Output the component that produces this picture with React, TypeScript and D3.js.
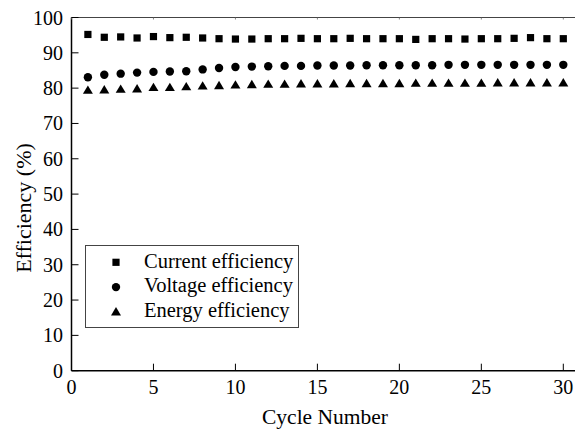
import React from 'react';
import * as d3 from 'd3';

const cycles = d3.range(1, 31);
const currentEff = [95.2, 94.4, 94.5, 94.2, 94.6, 94.3, 94.4, 94.2, 94.0, 93.9, 93.9, 94.0, 94.0, 94.1, 94.0, 94.0, 94.1, 94.0, 94.0, 94.0, 93.8, 94.0, 94.0, 93.9, 94.0, 94.0, 94.1, 94.3, 94.0, 94.0];
const voltageEff = [83.1, 83.8, 84.1, 84.4, 84.6, 84.7, 84.8, 85.3, 85.7, 86.0, 86.1, 86.2, 86.3, 86.3, 86.4, 86.4, 86.4, 86.5, 86.5, 86.5, 86.5, 86.5, 86.6, 86.6, 86.6, 86.6, 86.6, 86.6, 86.6, 86.6];
const energyEff = [79.4, 79.5, 79.7, 79.8, 80.2, 80.2, 80.4, 80.6, 80.7, 80.9, 81.0, 81.1, 81.1, 81.2, 81.2, 81.2, 81.3, 81.3, 81.3, 81.3, 81.4, 81.4, 81.4, 81.4, 81.4, 81.5, 81.5, 81.5, 81.5, 81.5];
const seriesNames = ['Current efficiency', 'Voltage efficiency', 'Energy efficiency'];
const xTicks = [0, 5, 10, 15, 20, 25, 30];
const yTicks = d3.range(0, 101, 10);

const W = 575;
const H = 429;
const font = '"Liberation Serif", "Times New Roman", serif';

const Marker = ({ kind, x, y }: { kind: number; x: number; y: number }) => {
  if (kind === 0) return <rect x={x - 3.6} y={y - 3.6} width={7.2} height={7.2} fill="#000" />;
  if (kind === 1) return <circle cx={x} cy={y} r={4.2} fill="#000" />;
  return <path d={`M${x},${y - 4.8}L${x + 5},${y + 3.6}L${x - 5},${y + 3.6}Z`} fill="#000" />;
};

export default function App() {
  const x = d3.scaleLinear().domain([0, 30]).range([71.5, 563.3]);
  const y = d3.scaleLinear().domain([0, 100]).range([370.7, 17.5]);
  const series = [currentEff, voltageEff, energyEff];

  return (
    <svg width={W} height={H} style={{ position: 'absolute', left: 0, top: 0, background: '#fff', fontFamily: font }}>
      {/* frame */}
      <line x1={x(0)} x2={W} y1={y(100)} y2={y(100)} stroke="#444" strokeWidth={1} />
      <line x1={x(0)} x2={W} y1={y(0)} y2={y(0)} stroke="#000" strokeWidth={1.5} />
      <line x1={x(0)} x2={x(0)} y1={y(100)} y2={y(0)} stroke="#000" strokeWidth={1.5} />

      {xTicks.map(t => (
        <g key={'x' + t}>
          <line x1={x(t)} x2={x(t)} y1={y(0)} y2={y(0) - 7} stroke="#000" strokeWidth={1} />
          <line x1={x(t)} x2={x(t)} y1={y(100)} y2={y(100) + 2} stroke="#666" strokeWidth={0.8} />
          <text x={x(t)} y={y(0) + 23.5} textAnchor="middle" fontSize={20}>{t}</text>
        </g>
      ))}
      {yTicks.map(t => (
        <g key={'y' + t}>
          <line x1={x(0)} x2={x(0) + 7} y1={y(t)} y2={y(t)} stroke="#000" strokeWidth={1} />
          <text x={x(0) - 8.5} y={y(t) + 7} textAnchor="end" fontSize={20}>{t}</text>
        </g>
      ))}

      <text x={325} y={424} textAnchor="middle" fontSize={21.5}>Cycle Number</text>
      <text transform="translate(31,208) rotate(-90)" textAnchor="middle" fontSize={22}>Efficiency (%)</text>

      {series.map((s, k) => (
        <g key={'s' + k}>
          {s.map((v, i) => <Marker key={i} kind={k} x={x(cycles[i])} y={y(v)} />)}
        </g>
      ))}

      {/* legend */}
      <rect x={85.5} y={245.5} width={213} height={82} fill="#fff" stroke="#444" strokeWidth={1} />
      {seriesNames.map((n, k) => (
        <g key={n}>
          <Marker kind={k} x={116} y={262.3 + k * 24.8} />
          <text x={144} y={267.5 + k * 24.9} fontSize={20.5}>{n}</text>
        </g>
      ))}
    </svg>
  );
}
